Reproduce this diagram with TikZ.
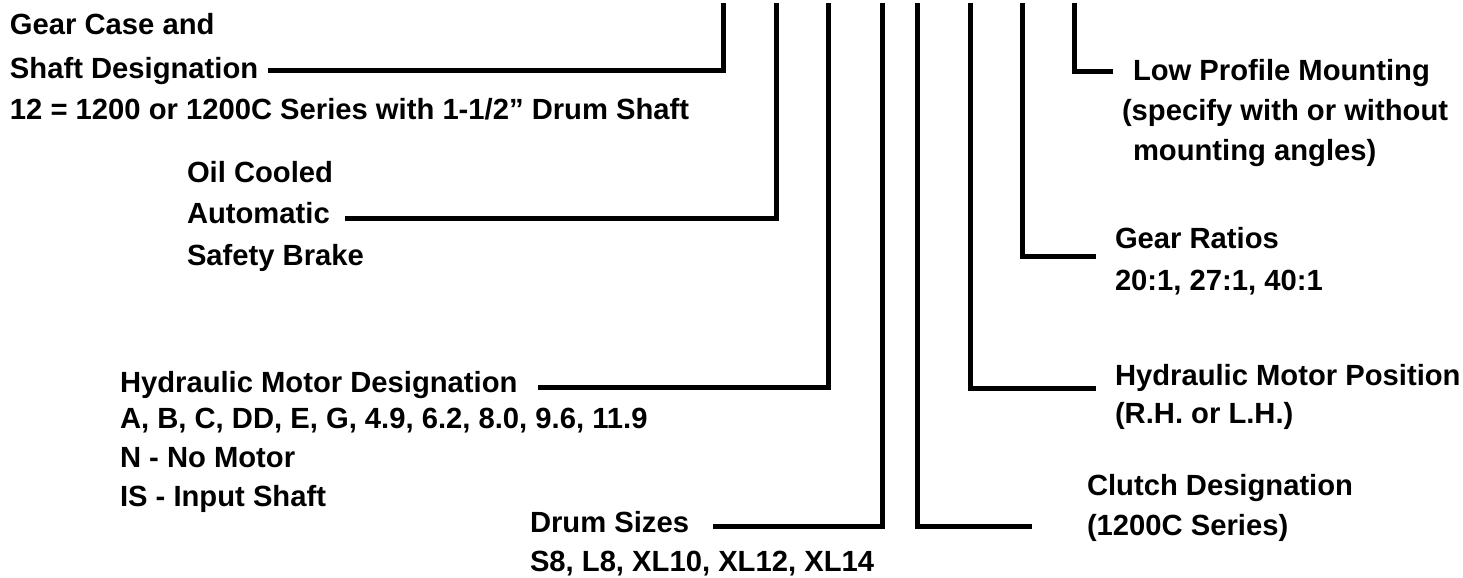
\documentclass[tikz,border=0pt]{standalone}
\usepackage{fontspec}
\setmainfont{Liberation Sans}
\begin{document}
\begin{tikzpicture}[x=0.5pt,y=-0.5pt,
  lbl/.style={anchor=base west,inner sep=0pt,outer sep=0pt,font=\fontsize{14.6}{20.75}\selectfont\bfseries},
  lead/.style={line width=2.5pt,line join=miter,line cap=butt}]
\useasboundingbox (0,0) rectangle (1463,578);
% labels
\node[lbl] (gc1) at (10,34) {Gear Case and};
\node[lbl] (gc2) at (10,78) {Shaft Designation};
\node[lbl] (gc3) at (10,119) {12 = 1200 or 1200C Series with 1-1/2” Drum Shaft};
\node[lbl] (oc1) at (187,182) {Oil Cooled};
\node[lbl] (oc2) at (187,223.5) {Automatic};
\node[lbl] (oc3) at (187,265) {Safety Brake};
\node[lbl] (hm1) at (120,392) {Hydraulic Motor Designation};
\node[lbl] (hm2) at (120,428) {A, B, C, DD, E, G, 4.9, 6.2, 8.0, 9.6, 11.9};
\node[lbl] (hm3) at (120,467) {N - No Motor};
\node[lbl] (hm4) at (120,506) {IS - Input Shaft};
\node[lbl] (ds1) at (530,532) {Drum Sizes};
\node[lbl] (ds2) at (530,571) {S8, L8, XL10, XL12, XL14};
\node[lbl] (cd1) at (1087,495) {Clutch Designation};
\node[lbl] (cd2) at (1087,535) {(1200C Series)};
\node[lbl] (mp1) at (1115,385) {Hydraulic Motor Position};
\node[lbl] (mp2) at (1115,423) {(R.H. or L.H.)};
\node[lbl] (gr1) at (1115,248) {Gear Ratios};
\node[lbl] (gr2) at (1115,290) {20:1, 27:1, 40:1};
\node[lbl] (lp1) at (1133,80) {Low Profile Mounting};
\node[lbl] (lp2) at (1122,120) {(specify with or without};
\node[lbl] (lp3) at (1133,160) {mounting angles)};
% leader coordinates
\coordinate (aS) at (268,70);   \coordinate (aC) at (723,70);   \coordinate (aT) at (723,3);
\coordinate (bS) at (345,218);  \coordinate (bC) at (776,218);  \coordinate (bT) at (776,3);
\coordinate (cS) at (538,387);  \coordinate (cC) at (828,387);  \coordinate (cT) at (828,3);
\coordinate (dS) at (713,526);  \coordinate (dC) at (882,526);  \coordinate (dT) at (882,3);
\coordinate (eS) at (1032,526); \coordinate (eC) at (917,526);  \coordinate (eT) at (917,3);
\coordinate (fS) at (1096,388); \coordinate (fC) at (970,388);  \coordinate (fT) at (970,3);
\coordinate (gS) at (1096,256); \coordinate (gC) at (1022,256); \coordinate (gT) at (1022,3);
\coordinate (hS) at (1113,71);  \coordinate (hC) at (1074,71);  \coordinate (hT) at (1074,3);
\draw[lead] (aS) -- (aC) -- (aT);
\draw[lead] (bS) -- (bC) -- (bT);
\draw[lead] (cS) -- (cC) -- (cT);
\draw[lead] (dS) -- (dC) -- (dT);
\draw[lead] (eS) -- (eC) -- (eT);
\draw[lead] (fS) -- (fC) -- (fT);
\draw[lead] (gS) -- (gC) -- (gT);
\draw[lead] (hS) -- (hC) -- (hT);
\end{tikzpicture}
\end{document}
